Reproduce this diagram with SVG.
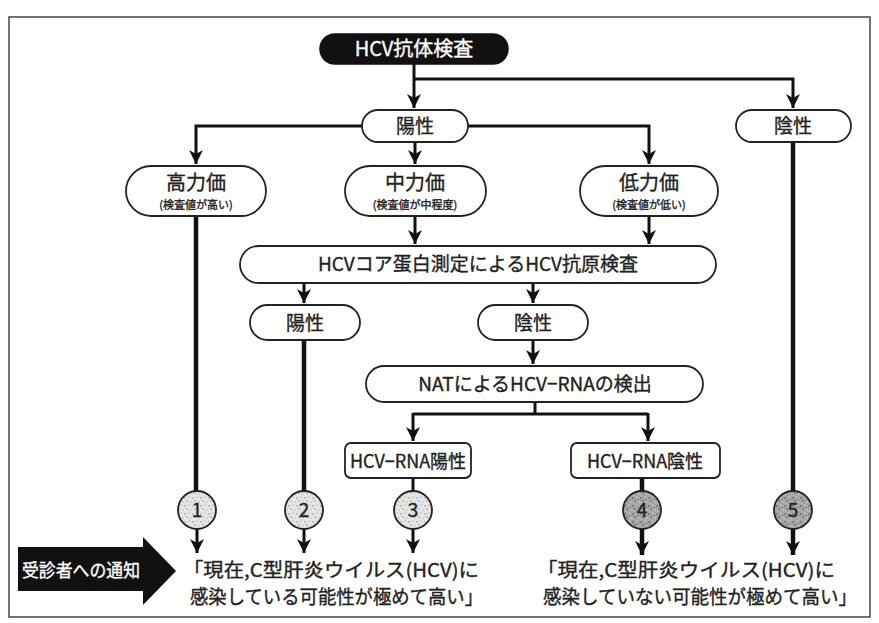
<svg xmlns="http://www.w3.org/2000/svg" width="879" height="623" viewBox="0 0 879 623">
<defs>
<style>
.box{fill:#fff;stroke:#222;stroke-width:1.8}
.t{font-family:"Noto Sans CJK JP","Noto Sans",sans-serif;fill:#222;stroke:#222;stroke-width:0.35;text-anchor:middle;font-weight:400}
.w{fill:#fff;stroke:#fff}
.s{text-anchor:start}
.c{fill:none;stroke:#111;stroke-width:3}
.ck{fill:none;stroke:#111;stroke-width:4.5}
.cc{stroke:#222;stroke-width:1.8}
</style>
<marker id="ah" markerUnits="userSpaceOnUse" markerWidth="16" markerHeight="14" refX="14" refY="7" orient="auto">
<path d="M0,0 L14,7 L0,14 L4,7 Z" fill="#111"/>
</marker>
<pattern id="lt" width="8" height="8" patternUnits="userSpaceOnUse">
<rect width="8" height="8" fill="#e4e4e4"/>
<circle cx="1" cy="2" r="0.7" fill="#8a8a8a"/><circle cx="5" cy="1" r="0.6" fill="#9a9a9a"/>
<circle cx="3" cy="5" r="0.7" fill="#888"/><circle cx="7" cy="6" r="0.6" fill="#a0a0a0"/>
<circle cx="6" cy="3.5" r="0.5" fill="#fff"/><circle cx="1.5" cy="7" r="0.5" fill="#fff"/>
</pattern>
<pattern id="dk" width="8" height="8" patternUnits="userSpaceOnUse">
<rect width="8" height="8" fill="#a4a4a4"/>
<circle cx="1" cy="2" r="0.8" fill="#5a5a5a"/><circle cx="5" cy="1" r="0.7" fill="#d8d8d8"/>
<circle cx="3" cy="5" r="0.8" fill="#606060"/><circle cx="7" cy="6" r="0.7" fill="#dcdcdc"/>
<circle cx="6" cy="3.5" r="0.6" fill="#6a6a6a"/><circle cx="1.5" cy="7" r="0.6" fill="#e0e0e0"/>
</pattern>
</defs>
<rect x="0" y="0" width="879" height="623" fill="#fff"/>
<rect x="9" y="17" width="861" height="600" fill="none" stroke="#444" stroke-width="1.5"/>

<g id="connectors">
<path class="c" d="M414,64 V108" marker-end="url(#ah)"/>
<path class="c" d="M414,79 H793 V108" marker-end="url(#ah)"/>
<path class="c" d="M362,126 H196 V164" marker-end="url(#ah)"/>
<path class="c" d="M468,126 H649 V164" marker-end="url(#ah)"/>
<path class="c" d="M415,142 V164" marker-end="url(#ah)"/>
<path class="c" d="M415,216 V244" marker-end="url(#ah)"/>
<path class="c" d="M649,216 V244" marker-end="url(#ah)"/>
<path class="c" d="M304,283 V303" marker-end="url(#ah)"/>
<path class="c" d="M533,283 V303" marker-end="url(#ah)"/>
<path class="c" d="M533,340 V364" marker-end="url(#ah)"/>
<path class="c" d="M535,402 V414 M413,414 H648"/>
<path class="c" d="M413,413 V441" marker-end="url(#ah)"/>
<path class="c" d="M648,413 V441" marker-end="url(#ah)"/>
<path class="ck" d="M196,216 V491"/>
<path class="ck" d="M304,340 V491"/>
<path class="ck" d="M793,142 V491"/>
<path class="c" d="M413,478 V491"/>
<path class="ck" d="M642,478 V491"/>
<path class="c" d="M197,529 V553" marker-end="url(#ah)"/>
<path class="c" d="M304,529 V553" marker-end="url(#ah)"/>
<path class="c" d="M413,529 V553" marker-end="url(#ah)"/>
<path class="ck" d="M642,529 V555" marker-end="url(#ah)"/>
<path class="ck" d="M793,529 V555" marker-end="url(#ah)"/>
</g>

<g id="n-antibody">
<rect x="320" y="34" width="188" height="30" rx="15" fill="#111" stroke="#111" stroke-width="1.5"/>
<text class="t w" x="414" y="56" font-size="20">HCV抗体検査</text>
</g>
<g id="n-pos1">
<rect class="box" x="362" y="110" width="106" height="32" rx="16"/>
<text class="t" x="415" y="133" font-size="19">陽性</text>
</g>
<g id="n-neg1">
<rect class="box" x="736" y="110" width="115" height="32" rx="16"/>
<text class="t" x="793" y="133" font-size="19">陰性</text>
</g>
<g id="n-high">
<rect class="box" x="126" y="166" width="140" height="50" rx="25"/>
<text class="t" x="196" y="190" font-size="20">高力価</text>
<text class="t" x="196" y="209" font-size="11">(検査値が高い)</text>
</g>
<g id="n-mid">
<rect class="box" x="345" y="166" width="141" height="50" rx="25"/>
<text class="t" x="415" y="190" font-size="20">中力価</text>
<text class="t" x="415" y="209" font-size="11">(検査値が中程度)</text>
</g>
<g id="n-low">
<rect class="box" x="580" y="166" width="138" height="50" rx="25"/>
<text class="t" x="649" y="190" font-size="20">低力価</text>
<text class="t" x="649" y="209" font-size="11">(検査値が低い)</text>
</g>
<g id="n-core">
<rect class="box" x="240" y="246" width="476" height="37" rx="18.5"/>
<text class="t" x="478" y="271" font-size="19">HCVコア蛋白測定によるHCV抗原検査</text>
</g>
<g id="n-pos2">
<rect class="box" x="250" y="305" width="110" height="35" rx="17.5"/>
<text class="t" x="305" y="330" font-size="19">陽性</text>
</g>
<g id="n-neg2">
<rect class="box" x="478" y="305" width="110" height="35" rx="17.5"/>
<text class="t" x="533" y="330" font-size="19">陰性</text>
</g>
<g id="n-nat">
<rect class="box" x="366" y="366" width="337" height="36" rx="18"/>
<text class="t" x="535" y="391" font-size="19">NATによるHCV−RNAの検出</text>
</g>
<g id="n-rnapos">
<rect class="box" x="345" y="443" width="126" height="35" rx="6"/>
<text class="t" x="408" y="468" font-size="18">HCV−RNA陽性</text>
</g>
<g id="n-rnaneg">
<rect class="box" x="571" y="443" width="149" height="35" rx="6"/>
<text class="t" x="645" y="468" font-size="18">HCV−RNA陰性</text>
</g>

<g id="c1"><circle class="cc" cx="197" cy="510" r="19" fill="url(#lt)"/><text class="t" x="197" y="517" font-size="19">1</text></g>
<g id="c2"><circle class="cc" cx="304" cy="510" r="19" fill="url(#lt)"/><text class="t" x="304" y="517" font-size="19">2</text></g>
<g id="c3"><circle class="cc" cx="413" cy="510" r="19" fill="url(#lt)"/><text class="t" x="413" y="517" font-size="19">3</text></g>
<g id="c4"><circle class="cc" cx="642" cy="510" r="19" fill="url(#dk)"/><text class="t" x="642" y="517" font-size="19">4</text></g>
<g id="c5"><circle class="cc" cx="793" cy="510" r="19" fill="url(#dk)"/><text class="t" x="793" y="517" font-size="19">5</text></g>

<g id="notice">
<path d="M18,547 H143 V537 L176,571 L143,605 V591 H18 Z" fill="#111"/>
<text class="t w" x="81" y="577" font-size="18" textLength="118" lengthAdjust="spacingAndGlyphs">受診者への通知</text>
</g>
<g id="msg-pos">
<text class="t s" x="183" y="577" font-size="19" textLength="296" lengthAdjust="spacingAndGlyphs">「現在,C型肝炎ウイルス(HCV)に</text>
<text class="t s" x="190" y="604" font-size="19" textLength="293" lengthAdjust="spacingAndGlyphs">感染している可能性が極めて高い」</text>
</g>
<g id="msg-neg">
<text class="t s" x="537" y="577" font-size="19" textLength="298" lengthAdjust="spacingAndGlyphs">「現在,C型肝炎ウイルス(HCV)に</text>
<text class="t s" x="543" y="604" font-size="19" textLength="314" lengthAdjust="spacingAndGlyphs">感染していない可能性が極めて高い」</text>
</g>
</svg>
